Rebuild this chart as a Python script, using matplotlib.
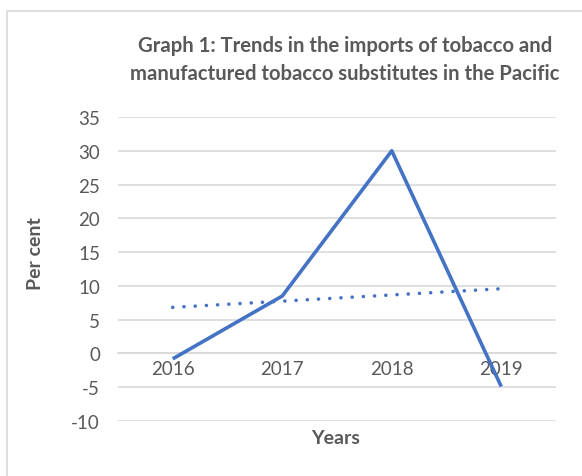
import numpy as np
import matplotlib
matplotlib.use('Agg')
import matplotlib.pyplot as plt

years = ['2016', '2017', '2018', '2019']
per_cent = [-0.8, 8.5, 30.0, -4.9]
y_ticks = [-10, -5, 0, 5, 10, 15, 20, 25, 30, 35]

plt.rcParams['font.family'] = ['Lato', 'DejaVu Sans']
grey = '#595959'
blue = '#4472C4'

W, H = 582, 477
fig = plt.figure(figsize=(W / 100, H / 100), dpi=100)
ax = fig.add_axes([118 / W, 1 - 422 / H, (556 - 118) / W, (422 - 118) / H])

x = np.arange(len(years))
ax.plot(x, per_cent, color=blue, lw=2.6, solid_capstyle='butt', zorder=3)

# linear trendline like Excel's
slope, icpt = np.polyfit(x, per_cent, 1)
ax.plot(x, slope * x + icpt, color=blue, lw=2.6, linestyle=(0, (0.01, 3.1)),
        dash_capstyle='round', zorder=3)

ax.set_xlim(-0.5, 3.5)
ax.set_ylim(-10, 35)
ax.set_yticks(y_ticks)
ax.set_yticklabels([str(v) for v in y_ticks])
ax.grid(axis='y', color='#d9d9d9', lw=1.2)
ax.set_axisbelow(True)
for s in ['top', 'right', 'left']:
    ax.spines[s].set_visible(False)
ax.spines['bottom'].set_position(('data', 0))
ax.spines['bottom'].set_color('#d9d9d9')
ax.spines['bottom'].set_linewidth(1.2)
ax.set_xticks(x)
ax.set_xticklabels(years)
ax.tick_params(axis='both', length=0, colors=grey, labelsize=13.5)
ax.tick_params(axis='x', pad=5)
ax.tick_params(axis='y', pad=13)

ax.set_ylabel('Per cent', fontsize=14, fontweight='bold', color=grey)
ax.yaxis.set_label_coords((44 - 118) / (556 - 118), (422 - 254) / (422 - 118))
fig.text(336 / W, 1 - 439 / H, 'Years', fontsize=14, fontweight='bold',
         color=grey, ha='center', va='center')
fig.text(345 / W, 1 - 60 / H,
         'Graph 1: Trends in the imports of tobacco and\nmanufactured tobacco substitutes in the Pacific',
         fontsize=14.6, fontweight='bold', color=grey, ha='center', va='center',
         linespacing=1.45)

# chart frame
fig.patches.append(plt.Rectangle((7 / W, -0.01), 1, 1 - 12 / H + 0.01,
                                 transform=fig.transFigure, fill=False,
                                 edgecolor='#d9d9d9', lw=1.2))

fig.savefig('out.png', dpi=100)
